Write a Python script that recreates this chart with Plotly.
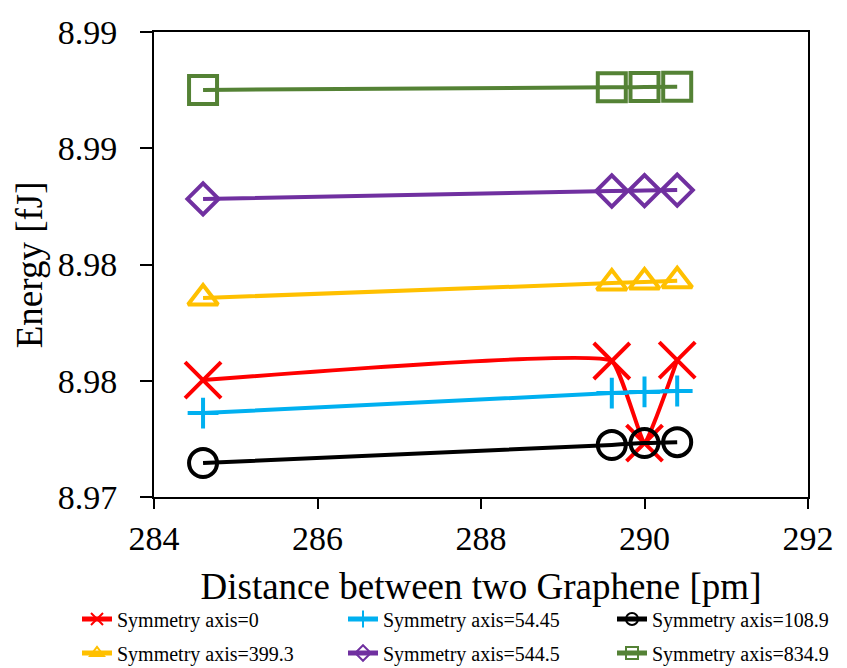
import plotly.graph_objects as go

# ---- data ----
distance = [284.6, 289.6, 290.0, 290.4]

names = ["Symmetry axis=0", "Symmetry axis=54.45", "Symmetry axis=108.9",
         "Symmetry axis=399.3", "Symmetry axis=544.5", "Symmetry axis=834.9"]

energy_0 = [8.97503, 8.97585, 8.97232, 8.97589]
energy_54_45 = [8.97361, 8.97447, 8.97452, 8.97456]
energy_108_9 = [8.97146, 8.97224, 8.97232, 8.97236]
energy_399_3 = [8.97856, 8.97920, 8.97925, 8.97930]
energy_544_5 = [8.98282, 8.98316, 8.98318, 8.98320]
energy_834_9 = [8.98751, 8.98762, 8.98763, 8.98764]

y_tickvals = [8.970, 8.975, 8.980, 8.985, 8.990]
y_ticktext = ["8.97", "8.98", "8.98", "8.99", "8.99"]
x_tickvals = [284, 286, 288, 290, 292]

x_title = "Distance between two Graphene [pm]"
y_title = "Energy [fJ]"

series = [energy_0, energy_54_45, energy_108_9, energy_399_3, energy_544_5, energy_834_9]
colors = ["#FF0000", "#00B0F0", "#000000", "#FFC000", "#7030A0", "#548235"]
symbols = ["x-thin-open", "cross-thin-open", "circle-open",
           "triangle-up-open", "diamond-open", "square-open"]
sizes = [36, 22, 28, 26, 24, 28]
smooth = [0.3, 1, 1, 1, 1, 1]

FONT = "Times New Roman, Liberation Serif, serif"

fig = go.Figure()
legend_ids = ["legend", "legend2", "legend3", "legend4", "legend5", "legend6"]
for i in range(6):
    fig.add_trace(go.Scatter(
        x=distance, y=series[i], name=names[i], mode="lines+markers",
        line=dict(color=colors[i], width=4, shape="spline", smoothing=smooth[i]),
        marker=dict(symbol=symbols[i], size=sizes[i], color=colors[i],
                    line=dict(color=colors[i], width=4)),
        legend=legend_ids[i],
    ))

col_x = [77 / 847, 343 / 847, 612 / 847]
row_y = [1 - 619 / 668, 1 - 653 / 668]
leg_common = dict(font=dict(family=FONT, size=20, color="#000000"),
                  bgcolor="rgba(0,0,0,0)", borderwidth=0,
                  xref="container", yref="container",
                  xanchor="left", yanchor="middle", itemsizing="constant")
layout_legends = {}
for i, lid in enumerate(legend_ids):
    layout_legends[lid] = dict(x=col_x[i % 3], y=row_y[i // 3], **leg_common)

fig.update_layout(
    width=847, height=668,
    margin=dict(l=154, r=39, t=32, b=171, autoexpand=False),
    paper_bgcolor="white", plot_bgcolor="white",
    font=dict(family=FONT, size=34, color="#000000"),
    showlegend=True,
    **layout_legends,
)

fig.add_annotation(
    text=y_title, textangle=-90, showarrow=False,
    xref="paper", yref="paper", x=-0.19, y=0.5,
    xanchor="center", yanchor="middle",
    font=dict(family=FONT, size=37, color="#000000"),
)

fig.update_xaxes(
    range=[284, 292], tickvals=x_tickvals, ticks="outside", ticklen=10,
    tickwidth=2, tickcolor="#000000", ticklabelstandoff=0,
    showline=True, linecolor="#000000", linewidth=2, mirror=True,
    showgrid=False, zeroline=False,
    tickfont=dict(family=FONT, size=34),
    title=dict(text=x_title, font=dict(family=FONT, size=37), standoff=17),
)
fig.update_yaxes(
    range=[8.970, 8.990], tickvals=y_tickvals, ticktext=y_ticktext,
    ticks="outside", ticklen=12, tickwidth=2, tickcolor="#000000",
    ticklabelstandoff=16,
    showline=True, linecolor="#000000", linewidth=2, mirror=True,
    showgrid=False, zeroline=False,
    tickfont=dict(family=FONT, size=34),
)

fig.write_html("out.html")
